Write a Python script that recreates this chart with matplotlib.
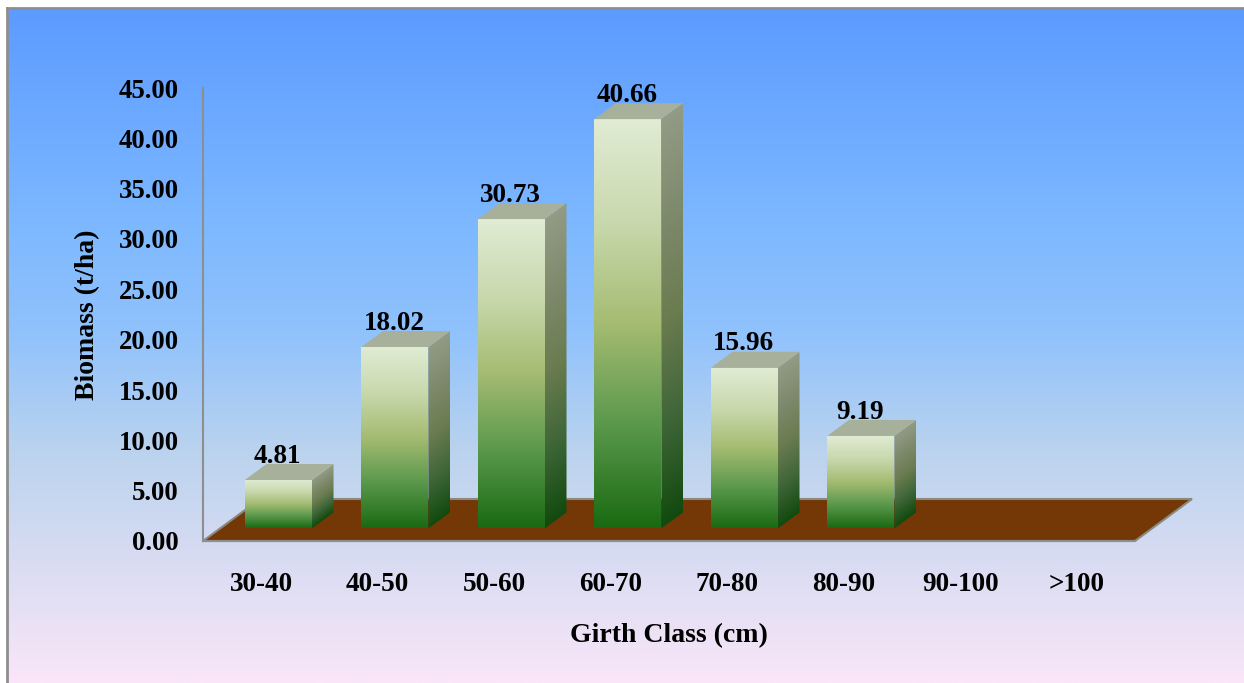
import numpy as np
import matplotlib
matplotlib.use("Agg")
import matplotlib.pyplot as plt
from matplotlib.colors import to_rgb
from matplotlib.patches import Polygon

# Biomass per girth class
girth_classes = ["30-40", "40-50", "50-60", "60-70", "70-80", "80-90", "90-100", ">100"]
biomass = [4.81, 18.02, 30.73, 40.66, 15.96, 9.19, None, None]
y_ticks = [0, 5, 10, 15, 20, 25, 30, 35, 40, 45]

W, H = 1244, 683
plt.rcParams["font.family"] = ["Liberation Serif", "DejaVu Serif"]
plt.rcParams["font.weight"] = "bold"
fig = plt.figure(figsize=(W / 100, H / 100), dpi=100, facecolor="white")


def px_axes(x0, y0, x1, y1, **kw):
    return fig.add_axes([x0 / W, 1 - y1 / H, (x1 - x0) / W, (y1 - y0) / H], **kw)


def ramp(t, stops, colors):
    rgb = np.array([to_rgb(c) for c in colors])
    return np.stack([np.interp(t, stops, rgb[:, i]) for i in range(3)], axis=-1)


# Panel background with its grey top and left edges
bg = px_axes(7, 8, W, H)
bg_t = np.linspace(0, 1, 400)[:, None]
bg.imshow(
    ramp(bg_t, [0, 0.32, 0.48, 0.66, 1], ["#5C9BFF", "#7DB8FF", "#90C2FC", "#BBD3EE", "#FAE6F8"]),
    aspect="auto", extent=[0, 1, 0, 1], interpolation="bilinear",
)
bg.set_xticks([])
bg.set_yticks([])
for side in ("right", "bottom"):
    bg.spines[side].set_visible(False)
for side in ("left", "top"):
    bg.spines[side].set_color("#8E8E8E")
    bg.spines[side].set_linewidth(2)

# Plot area: x in category units, y in t/ha
ax = px_axes(203, 88, 1135, 541)
ax.patch.set_visible(False)

DEPTH_X = 57 / 116.5  # floor depth in category units
DEPTH_Y = 42 / (453 / 45)  # floor depth in t/ha
BAR_W = 67 / 116.5
Z_FRONT, Z_BACK = 0.30, 0.68


def project(x, y, z):
    return x + z * DEPTH_X, y + z * DEPTH_Y


FRONT_STOPS = [0, 0.25, 0.5, 0.75, 1]
FRONT_COLORS = ["#1A6A12", "#5A984C", "#A5BC72", "#C9D9AE", "#E0ECD4"]
SIDE_COLORS = ["#124A0E", "#3F6638", "#6A7C50", "#7E8A6C", "#929C86"]
TOP_COLOR = "#A6B09A"

# Floor
floor = Polygon(
    [project(0, 0, 0), project(8, 0, 0), project(8, 0, 1), project(0, 0, 1)],
    closed=True, facecolor="#733805", edgecolor="#8A8A80", linewidth=1.5,
    clip_on=False, zorder=1,
)
ax.add_patch(floor)

# Bars: front face, side face, top face, value label
for i, value in enumerate(biomass):
    if value is None:
        continue
    x_left = i + 0.5 - BAR_W / 2
    x_right = x_left + BAR_W

    p_fl = project(x_left, 0, Z_FRONT)
    p_fr = project(x_right, 0, Z_FRONT)
    p_br = project(x_right, 0, Z_BACK)
    t_fl = project(x_left, value, Z_FRONT)
    t_fr = project(x_right, value, Z_FRONT)
    t_br = project(x_right, value, Z_BACK)
    t_bl = project(x_left, value, Z_BACK)

    t = np.linspace(1, 0, 256)[:, None]
    front_img = ax.imshow(
        ramp(t, FRONT_STOPS, FRONT_COLORS), aspect="auto",
        extent=[p_fl[0], p_fr[0], p_fl[1], t_fl[1]], zorder=3,
    )
    front_img.set_clip_path(Polygon([p_fl, p_fr, t_fr, t_fl], transform=ax.transData))

    # Side shading follows the skew of the receding face
    xs = np.linspace(p_fr[0], p_br[0], 40)
    ys = np.linspace(p_fr[1], t_br[1], 300)
    gx, gy = np.meshgrid(xs, ys)
    base = p_fr[1] + (gx - p_fr[0]) * (p_br[1] - p_fr[1]) / (p_br[0] - p_fr[0])
    frac = np.clip((gy - base) / value, 0, 1)
    side_img = ax.imshow(
        ramp(frac, FRONT_STOPS, SIDE_COLORS), aspect="auto", origin="lower",
        extent=[p_fr[0], p_br[0], p_fr[1], t_br[1]], zorder=3,
    )
    side_img.set_clip_path(Polygon([p_fr, p_br, t_br, t_fr], transform=ax.transData))

    ax.add_patch(Polygon([t_fl, t_fr, t_br, t_bl], closed=True, facecolor=TOP_COLOR,
                         edgecolor="none", zorder=4))
    ax.text((t_fl[0] + t_fr[0]) / 2 - 0.005, t_bl[1] + 0.13, f"{value:.2f}",
            ha="center", va="baseline", fontsize=19.5, fontweight="bold",
            color="black", zorder=6)

ax.set_xlim(0, 8)
ax.set_ylim(0, 45)
ax.set_xticks(np.arange(len(girth_classes)) + 0.5)
ax.set_xticklabels(girth_classes, fontsize=19.5, fontweight="bold")
ax.set_yticks(y_ticks)
ax.set_yticklabels([f"{v:.2f}" for v in y_ticks], fontsize=19.3, fontweight="bold")
ax.tick_params(axis="x", length=0, pad=22)
ax.tick_params(axis="y", length=0, pad=17.5)
for side in ("top", "right"):
    ax.spines[side].set_visible(False)
ax.spines["bottom"].set_color("#8E8E8E")
ax.spines["left"].set_color("#8E8E8E")
ax.spines["bottom"].set_linewidth(1.5)
ax.spines["left"].set_linewidth(1.5)
ax.set_xlabel("Girth Class (cm)", fontsize=20, fontweight="bold", labelpad=19)
ax.set_ylabel("Biomass (t/ha)", fontsize=20, fontweight="bold", labelpad=13.5)

fig.savefig("out.png", dpi=100, facecolor="white")
